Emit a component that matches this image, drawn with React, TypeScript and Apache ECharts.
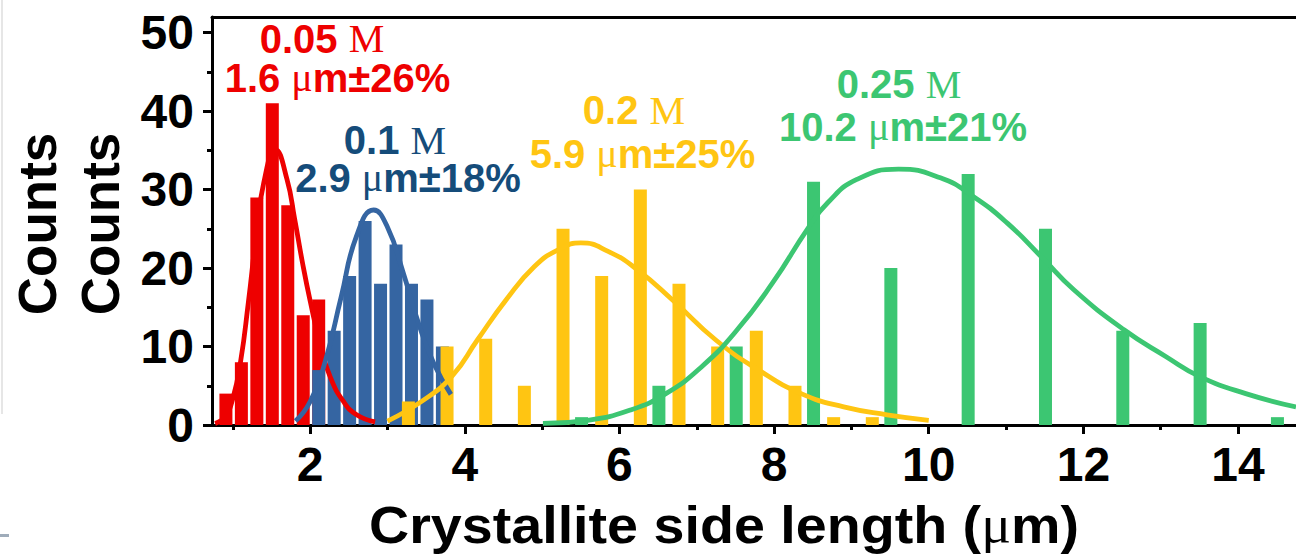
import React, { useEffect, useRef } from "react";
import * as echarts from "echarts";

// ---- data ----
const redX = [0.91, 1.11, 1.31, 1.51, 1.71, 1.91, 2.11];
const redCounts = [4, 8, 29, 41, 28, 14, 16];
const blueX = [2.11, 2.31, 2.51, 2.71, 2.91, 3.11, 3.31, 3.51, 3.71];
const blueCounts = [7, 12, 19, 26, 18, 23, 18, 16, 10];
const yellowX = [3.27, 3.77, 4.27, 4.77, 5.27, 5.77, 6.27, 6.77, 7.27, 7.77, 8.27, 8.77, 9.27];
const yellowCounts = [3, 10, 11, 5, 25, 19, 30, 18, 10, 12, 5, 1, 1];
const greenX = [5.51, 6.51, 7.51, 8.51, 9.51, 10.51, 11.51, 12.51, 13.51, 14.51];
const greenCounts = [1, 5, 10, 31, 20, 32, 25, 12, 13, 1];

// fitted curves, points
const redFit = [
  [0.77, 0.2], [0.9, 1.1], [1.0, 3.4], [1.1, 8.1], [1.2, 15.6], [1.3, 24.0], [1.4, 30.9],
  [1.55, 35.1], [1.7, 31.3], [1.8, 26.2], [1.9, 20.7], [2.0, 15.8], [2.13, 10.2],
  [2.26, 6.1], [2.43, 3.0], [2.6, 1.3], [2.84, 0.4],
];
const blueFit = [
  [1.81, 0.5], [2.0, 3.0], [2.2, 8.3], [2.4, 16.3], [2.6, 24.1], [2.82, 27.4], [3.0, 25.2],
  [3.2, 19.5], [3.4, 13.0], [3.6, 7.8], [3.82, 3.9],
];
const yellowFit = [
  [3.0, 0.5], [3.47, 3.2], [3.84, 6.3], [4.16, 10.8], [4.53, 15.9], [4.9, 20.2], [5.22, 22.4],
  [5.5, 23.2], [5.86, 22.1], [6.23, 19.8], [6.69, 15.9], [7.25, 10.8], [7.8, 7.0],
  [8.35, 4.0], [8.9, 2.3], [9.46, 1.3], [10.0, 0.6],
];
const greenFit = [
  [5.01, 0.2], [5.59, 0.6], [6.14, 1.9], [6.6, 4.0], [7.06, 7.4], [7.52, 12.1], [7.98, 18.1],
  [8.44, 25.1], [8.69, 28.3], [9.07, 31.3], [9.61, 32.6], [10.15, 31.5], [10.58, 29.1],
  [11.02, 25.7], [11.45, 21.5], [11.88, 17.2], [12.53, 12.1], [13.07, 8.7], [13.5, 6.2],
  [14.1, 4.0], [14.75, 2.3],
];

const xTickLabels = [2, 4, 6, 8, 10, 12, 14];
const xMinorTicks = [1, 3, 5, 7, 9, 11, 13];
const yTickLabels = [0, 10, 20, 30, 40, 50];
const yMinorTicks = [5, 15, 25, 35, 45];

const concLabels = ["0.05", "0.1", "0.2", "0.25"];
const sizeLabels = ["1.6", "2.9", "5.9", "10.2"];
const spreadLabels = ["26%", "18%", "25%", "21%"];
const xTitle = "Crystallite side length";
const yTitle = "Counts";

// ---- styles ----
const X_MIN = 0.73;
const X_MAX = 14.75;
const Y_MAX = 52;
const SANS = "Liberation Sans, Arial, sans-serif";
const SERIF = "Liberation Serif, Times New Roman, serif";
const RED = "#EE0000";
const BLUE = "#3565A2";
const BLUE_TEXT = "#154C7A";
const YELLOW = "#FFC512";
const GREEN = "#3CC672";

const zip = (xs: number[], ys: number[]) => xs.map((x, i) => [x, ys[i]]);

function rich(color: string, size: number) {
  return {
    s: { fill: color, fontFamily: SANS, fontWeight: "bold", fontSize: size },
    r: { fill: color, fontFamily: SERIF, fontWeight: "normal", fontSize: size },
  };
}

function textEl(x: number, y: number, text: string, color: string, size: number, rotation = 0, scaleX = 1) {
  return {
    type: "text",
    x,
    y,
    rotation,
    scaleX,
    silent: true,
    style: {
      text,
      rich: rich(color, size),
      fill: color,
      font: `bold ${size}px ${SANS}`,
      align: "center",
      verticalAlign: "middle",
      textAlign: "center",
      textVerticalAlign: "middle",
    },
  };
}

function buildOption() {
  const axisLine = { color: "#000", width: 3 };
  const labelFont = { color: "#000", fontFamily: SANS, fontWeight: "bold", fontSize: 48 };
  const colors = [RED, BLUE_TEXT, YELLOW, GREEN];
  const labelPos = [
    [[322, 38.5], [337.5, 77.5]],
    [[395, 140], [408, 177.5]],
    [[634, 110], [642.5, 153.7]],
    [[899, 84.2], [903, 126.7]],
  ];
  const annotations: any[] = [];
  concLabels.forEach((c, i) => {
    const [p1, p2] = labelPos[i];
    annotations.push(textEl(p1[0], p1[1], `{s|${c} }{r|M}`, colors[i], 40));
    annotations.push(textEl(p2[0], p2[1], `{s|${sizeLabels[i]} }{r|μ}{s|m±${spreadLabels[i]}}`, colors[i], 40));
  });

  const barSeries = (xs: number[], ys: number[], color: string) => ({
    type: "bar",
    xAxisIndex: 0,
    yAxisIndex: 0,
    data: zip(xs, ys),
    barWidth: 13,
    barGap: "-100%",
    itemStyle: { color },
    silent: true,
  });
  const lineSeries = (pts: number[][], color: string) => ({
    type: "line",
    xAxisIndex: 0,
    yAxisIndex: 0,
    data: pts,
    smooth: 0.5,
    showSymbol: false,
    symbol: "none",
    clip: true,
    lineStyle: { color, width: 4.8 },
    silent: true,
  });

  return {
    animation: false,
    backgroundColor: "#fff",
    grid: [
      { left: 212, right: 0, top: 17, bottom: 129 },
      { left: 212, right: 0, top: 17, bottom: 129 },
    ],
    xAxis: [
      {
        type: "value", gridIndex: 0, position: "bottom", min: X_MIN, max: X_MAX,
        splitLine: { show: false },
        axisLine: { show: true, onZero: false, lineStyle: axisLine },
        axisTick: { show: true, customValues: xTickLabels, length: 9, lineStyle: axisLine },
        axisLabel: { show: true, customValues: xTickLabels, margin: 15, ...labelFont },
      },
      {
        type: "value", gridIndex: 0, position: "top", min: X_MIN, max: X_MAX,
        splitLine: { show: false },
        axisLine: { show: true, onZero: false, lineStyle: axisLine },
        axisTick: { show: false },
        axisLabel: { show: false },
      },
      {
        type: "value", gridIndex: 1, position: "bottom", min: X_MIN, max: X_MAX,
        splitLine: { show: false },
        axisLine: { show: false, onZero: false },
        axisTick: { show: true, customValues: xMinorTicks, length: 5, lineStyle: axisLine },
        axisLabel: { show: false },
      },
    ],
    yAxis: [
      {
        type: "value", gridIndex: 0, min: 0, max: Y_MAX,
        splitLine: { show: false },
        axisLine: { show: true, onZero: false, lineStyle: axisLine },
        axisTick: { show: true, customValues: yTickLabels, length: 9, lineStyle: axisLine },
        axisLabel: { show: true, customValues: yTickLabels, margin: 18, ...labelFont },
      },
      {
        type: "value", gridIndex: 1, min: 0, max: Y_MAX,
        splitLine: { show: false },
        axisLine: { show: false, onZero: false },
        axisTick: { show: true, customValues: yMinorTicks, length: 5, lineStyle: axisLine },
        axisLabel: { show: false },
      },
    ],
    series: [
      barSeries(redX, redCounts, RED),
      barSeries(blueX, blueCounts, BLUE),
      barSeries(yellowX, yellowCounts, YELLOW),
      barSeries(greenX, greenCounts, GREEN),
      lineSeries(redFit, RED),
      lineSeries(blueFit, BLUE),
      lineSeries(yellowFit, YELLOW),
      lineSeries(greenFit, GREEN),
    ],
    graphic: [
      ...annotations,
      textEl(724, 525, `{s|${xTitle} (}{r|μ}{s|m)}`, "#000", 52, 0, 1.07),
      textEl(37.5, 224, `{s|${yTitle}}`, "#000", 53, Math.PI / 2),
      textEl(100, 224, `{s|${yTitle}}`, "#000", 53, Math.PI / 2),
      { type: "line", silent: true, shape: { x1: 2, y1: 0, x2: 2, y2: 414 }, style: { stroke: "#E6E6E6", lineWidth: 2 } },
      { type: "line", silent: true, shape: { x1: 0, y1: 535.5, x2: 9, y2: 535.5 }, style: { stroke: "#9FACBA", lineWidth: 3 } },
    ],
  };
}

export default function App() {
  const ref = useRef<HTMLDivElement>(null);
  useEffect(() => {
    if (!ref.current) return;
    const chart = echarts.init(ref.current, null, { renderer: "svg" });
    chart.setOption(buildOption() as any);
    return () => chart.dispose();
  }, []);
  return (
    <div
      ref={ref}
      style={{ position: "fixed", left: 0, top: 0, width: 1296, height: 554, background: "#fff" }}
    />
  );
}
